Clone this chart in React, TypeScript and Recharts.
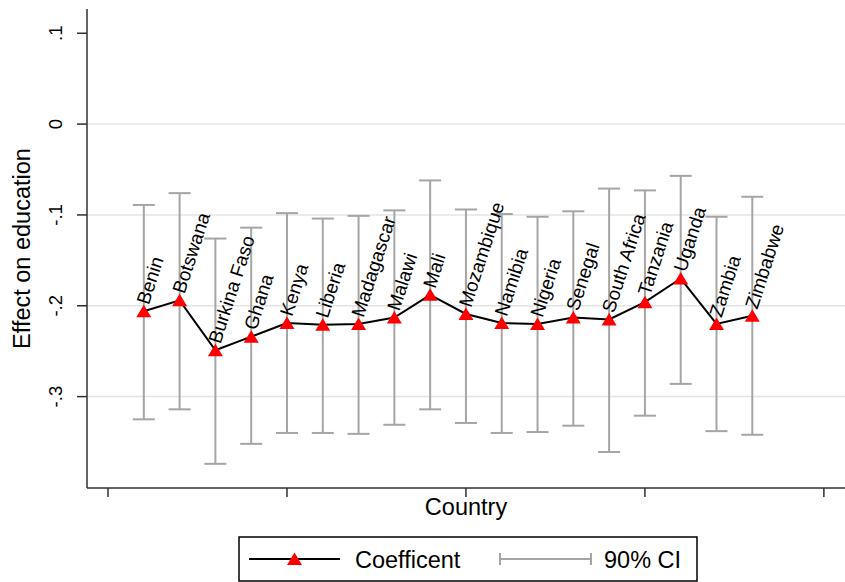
import { LineChart, Line, XAxis, YAxis, ErrorBar, ReferenceLine, LabelList } from 'recharts'

const countries = [
  'Benin', 'Botswana', 'Burkina Faso', 'Ghana', 'Kenya', 'Liberia', 'Madagascar', 'Malawi', 'Mali',
  'Mozambique', 'Namibia', 'Nigeria', 'Senegal', 'South Africa', 'Tanzania', 'Uganda', 'Zambia', 'Zimbabwe',
]
const coef = [
  -0.206, -0.194, -0.249, -0.234, -0.219, -0.221, -0.22, -0.213, -0.188,
  -0.209, -0.219, -0.22, -0.213, -0.215, -0.196, -0.17, -0.22, -0.211,
]
const ciLow = [
  -0.325, -0.314, -0.374, -0.352, -0.34, -0.34, -0.341, -0.331, -0.314,
  -0.329, -0.34, -0.339, -0.332, -0.361, -0.321, -0.286, -0.338, -0.342,
]
const ciHigh = [
  -0.089, -0.076, -0.126, -0.114, -0.098, -0.104, -0.101, -0.095, -0.062,
  -0.094, -0.099, -0.102, -0.096, -0.071, -0.073, -0.057, -0.102, -0.08,
]
const yTicks = [0.1, 0, -0.1, -0.2, -0.3]
const gridValues = [0, -0.1, -0.2, -0.3]
const xTicks = [0, 5, 10, 15, 20]

const rows = countries.map((name, i) => ({
  x: i + 1,
  name,
  coef: coef[i],
  ci: [coef[i] - ciLow[i], ciHigh[i] - coef[i]],
}))

const FONT = '"Liberation Sans", Arial, Helvetica, sans-serif'
const RED = '#ff0000'
const CI_GRAY = '#a5a5a5'
const AXIS = '#303030'

const fmt = (v: number) => (v === 0 ? '0' : v.toFixed(1).replace('0.', '.'))

function Triangle({ cx, cy }: any) {
  if (cx == null || cy == null) return null
  return <path d={`M${cx},${cy - 6.5} L${cx + 7.5},${cy + 6} L${cx - 7.5},${cy + 6} Z`} fill={RED} />
}

function YTick({ x, y, payload }: any) {
  const tx = x - 13
  return (
    <text
      x={tx}
      y={y}
      transform={`rotate(-90 ${tx} ${y})`}
      textAnchor="middle"
      fontSize={18.5}
      fontFamily={FONT}
      fill="#000"
    >
      {fmt(payload.value)}
    </text>
  )
}

// x ticks are unlabelled, only the tick marks are drawn
const NoLabel = () => <g />

function PointLabel({ x, y, value }: any) {
  return (
    <text
      x={x}
      y={y}
      dx={7}
      dy={3}
      transform={`rotate(-72 ${x} ${y})`}
      fontSize={19}
      fontFamily={FONT}
      fill="#000"
    >
      {value}
    </text>
  )
}

function LegendBox() {
  return (
    <svg width={460} height={46} style={{ position: 'absolute', left: 238, top: 536 }}>
      <rect x={1} y={1} width={458} height={44} fill="#fff" stroke="#000" strokeWidth={1.5} />
      <line x1={11} x2={102} y1={23} y2={23} stroke="#000" strokeWidth={2} />
      <path d="M56.5,16.5 L64,29 L49,29 Z" fill={RED} />
      <text x={117} y={32} fontSize={23.5} fontFamily={FONT}>Coefficent</text>
      <line x1={262} x2={353} y1={23} y2={23} stroke={CI_GRAY} strokeWidth={2} />
      <line x1={262} x2={262} y1={17} y2={29} stroke={CI_GRAY} strokeWidth={2} />
      <line x1={353} x2={353} y1={17} y2={29} stroke={CI_GRAY} strokeWidth={2} />
      <text x={366} y={32} fontSize={23.5} fontFamily={FONT}>90% CI</text>
    </svg>
  )
}

export default function App() {
  return (
    <div style={{ position: 'absolute', left: 0, top: 0, width: 845, height: 582, background: '#fff' }}>
      <LineChart width={845} height={582} data={rows} margin={{ top: 9, right: 0, bottom: 0, left: 0 }}>
        {gridValues.map((v) => (
          <ReferenceLine key={v} y={v} stroke="#e4e4e4" strokeWidth={1.5} />
        ))}
        <XAxis
          type="number"
          dataKey="x"
          domain={[-0.587, 20.59]}
          ticks={xTicks}
          allowDataOverflow
          height={94}
          tick={<NoLabel />}
          tickSize={9}
          axisLine={{ stroke: AXIS, strokeWidth: 1.5 }}
          tickLine={{ stroke: AXIS, strokeWidth: 1.5 }}
          label={{ value: 'Country', position: 'insideTop', offset: 10, fontSize: 23.5, fontFamily: FONT, fill: '#000' }}
        />
        <YAxis
          type="number"
          domain={[-0.4006, 0.1267]}
          ticks={yTicks}
          allowDataOverflow
          width={87}
          tickSize={10}
          tick={<YTick />}
          axisLine={{ stroke: AXIS, strokeWidth: 1.5 }}
          tickLine={{ stroke: AXIS, strokeWidth: 1.5 }}
          label={({ viewBox }: any) => {
            const cx = 30
            const cy = viewBox.y + viewBox.height / 2
            return (
              <text
                x={cx}
                y={cy}
                transform={`rotate(-90 ${cx} ${cy})`}
                textAnchor="middle"
                fontSize={23.5}
                fontFamily={FONT}
                fill="#000"
              >
                Effect on education
              </text>
            )
          }}
        />
        <Line
          dataKey="coef"
          stroke="#000"
          strokeWidth={2}
          dot={<Triangle />}
          activeDot={false}
          isAnimationActive={false}
        >
          <ErrorBar dataKey="ci" direction="y" width={11} stroke={CI_GRAY} strokeWidth={2} isAnimationActive={false} />
          <LabelList dataKey="name" content={<PointLabel />} />
        </Line>
      </LineChart>
      <LegendBox />
    </div>
  )
}
